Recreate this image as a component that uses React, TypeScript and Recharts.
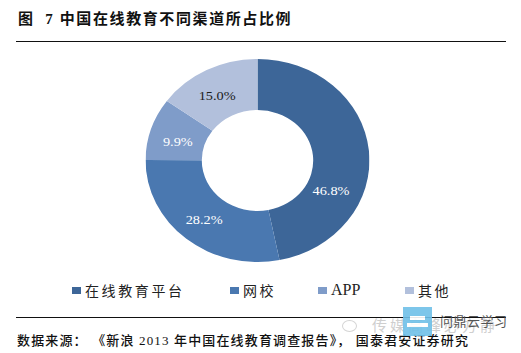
import { Cell, Pie, PieChart } from "recharts";

const channels = ["在线教育平台", "网校", "APP", "其他"];
const shares = [46.8, 28.2, 9.9, 15.0];
const sliceColors = ["#3d6698", "#4a78b0", "#7f9cc9", "#b2c0dc"];
const labelColors = ["#ffffff", "#ffffff", "#ffffff", "#1a1a1a"];

// the labels do not sit on the slice midlines in the original
const labelNudges = [
  [-9, 38],
  [0, 1],
  [0, 5],
  [-2, 3],
];
const legendLefts = [72, 230, 318, 405];

const data = channels.map((name, i) => ({ name, value: shares[i] }));

const CJK = '"Liberation Serif", "Noto Sans CJK SC", serif';
const RAD = Math.PI / 180;

function sliceLabel(props: any) {
  const { cx, cy, midAngle, innerRadius, outerRadius, index, value } = props;
  const r = (innerRadius + outerRadius) / 2;
  const [dx, dy] = labelNudges[index];
  return (
    <text
      x={cx + r * Math.cos(-midAngle * RAD) + dx}
      y={cy + r * Math.sin(-midAngle * RAD) + dy}
      fill={labelColors[index]}
      fontSize={13}
      fontFamily="Liberation Serif"
      textAnchor="middle"
      dominantBaseline="central"
    >
      {value.toFixed(1)}%
    </text>
  );
}

export default function App() {
  return (
    <div
      style={{
        position: "absolute",
        left: 0,
        top: 0,
        width: 521,
        height: 353,
        overflow: "hidden",
        background: "#fff",
        fontFamily: CJK,
        color: "#111",
      }}
    >
      <div style={{ position: "absolute", left: 18, top: 9, fontSize: 15, lineHeight: "20px", fontWeight: 700, letterSpacing: 1.6, whiteSpace: "pre" }}>
        图  7 中国在线教育不同渠道所占比例
      </div>
      <div style={{ position: "absolute", left: 16, top: 41, width: 490, height: 1, background: "#111" }} />

      <div style={{ position: "absolute", left: 156, top: 59, transform: "scaleX(1.103)", transformOrigin: "center" }}>
        <PieChart width={203} height={203} margin={{ top: 0, right: 0, bottom: 0, left: 0 }}>
          <Pie
            data={data}
            dataKey="value"
            cx={101.5}
            cy={101.5}
            innerRadius={50.5}
            outerRadius={101.5}
            startAngle={90}
            endAngle={-270}
            stroke="none"
            label={sliceLabel}
            labelLine={false}
            isAnimationActive={false}
          >
            {data.map((d, i) => (
              <Cell key={d.name} fill={sliceColors[i]} />
            ))}
          </Pie>
        </PieChart>
      </div>

      {channels.map((name, i) => (
        <div key={name} style={{ position: "absolute", left: legendLefts[i], top: 280, height: 20, display: "flex", alignItems: "center", whiteSpace: "nowrap" }}>
          <span style={{ width: 9, height: 7, background: sliceColors[i], marginRight: 4 }} />
          <span style={{ fontSize: name === "APP" ? 16 : 14, letterSpacing: name === "APP" ? 0 : 2.6, color: "#222" }}>{name}</span>
        </div>
      ))}

      <div style={{ position: "absolute", left: 16, top: 317, width: 490, height: 1, background: "#111" }} />
      <div style={{ position: "absolute", left: 17, top: 331, fontSize: 13, lineHeight: "20px", fontWeight: 500, letterSpacing: 1.15, whiteSpace: "pre" }}>
        数据来源： 《新浪 2013 年中国在线教育调查报告》， 国泰君安证券研究
      </div>

      {/* watermark over the bottom right corner */}
      <div style={{ position: "absolute", left: 342, top: 320, width: 13, height: 10, border: "1px solid #d4d4d4", borderRadius: "50%" }} />
      <div style={{ position: "absolute", left: 372, top: 316, fontSize: 15, lineHeight: "20px", letterSpacing: 3, color: "#cfcfcf", whiteSpace: "pre" }}>
        传媒高峰必方静
      </div>
      <div style={{ position: "absolute", left: 403, top: 307, width: 29, height: 29, background: "#6fc0e8", opacity: 0.9 }}>
        <div style={{ position: "absolute", left: 7, top: 9, width: 15, height: 4, background: "#fff" }} />
        <div style={{ position: "absolute", left: 4, top: 16, width: 21, height: 4, background: "#fff" }} />
      </div>
      <div style={{ position: "absolute", left: 440, top: 312, fontSize: 13, lineHeight: "20px", letterSpacing: 0.5, color: "#555", whiteSpace: "pre" }}>
        问鼎云学习
      </div>
    </div>
  );
}
